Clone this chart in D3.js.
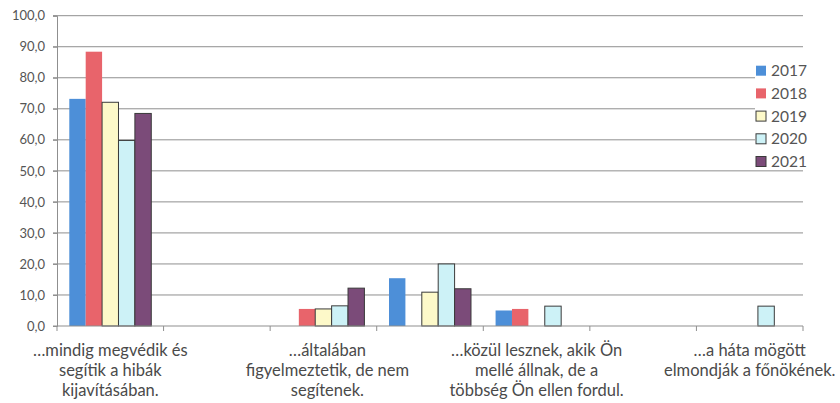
<!DOCTYPE html>
<html>
<head>
<meta charset="utf-8">
<script src="https://cdn.jsdelivr.net/npm/d3@7/dist/d3.min.js"></script>
<style>
  html, body { margin: 0; padding: 0; background: #fff; }
  svg { display: block; }
  text { font-family: Lato, "Open Sans", sans-serif; fill: #555; }
</style>
</head>
<body>
<svg id="chart" width="840" height="403"></svg>
<script>
// ---- data ----
// 7 categories; the chart shows only every other label (hidden labels are unreadable)
const categories = [
  "…mindig megvédik és\nsegítik a hibák\nkijavításában.",
  "",
  "…általában\nfigyelmeztetik, de nem\nsegítenek.",
  "",
  "…közül lesznek, akik Ön\nmellé állnak, de a\ntöbbség Ön ellen fordul.",
  "",
  "…a háta mögött\nelmondják a főnökének."
];
const seriesNames = ["2017", "2018", "2019", "2020", "2021"];
const v2017 = [73.2, 0, 0, 15.4, 5.0, 0, 0];
const v2018 = [88.4, 0, 5.5, 0, 5.5, 0, 0];
const v2019 = [72.1, 0, 5.5, 10.9, 0, 0, 0];
const v2020 = [59.8, 0, 6.5, 20.0, 6.4, 0, 6.4];
const v2021 = [68.5, 0, 12.2, 12.0, 0, 0, 0];
const yTicks = [0, 10, 20, 30, 40, 50, 60, 70, 80, 90, 100];

const seriesValues = [v2017, v2018, v2019, v2020, v2021];
const fills   = ["#4d8fd8", "#e8646b", "#fdf9c9", "#cdf2f7", "#7b4b79"];
const strokes = ["none", "none", "#3a3a3a", "#3a3a3a", "#3a3a3a"];

// ---- layout ----
const svg = d3.select("#chart");
const pLeft = 57, pRight = 803, pTop = 15.7, pBottom = 326;

const x = d3.scaleBand().domain(d3.range(categories.length)).range([pLeft, pRight]).paddingInner(0).paddingOuter(0);
const bw = x.bandwidth();
const inner = d3.scaleBand().domain(d3.range(seriesNames.length))
  .range([bw * 0.75 / 6.5, bw - bw * 0.75 / 6.5]).padding(0);
const y = d3.scaleLinear().domain([0, 100]).range([pBottom, pTop]);

// gridlines
svg.append("g").selectAll("line").data(yTicks.filter(t => t > 0)).join("line")
  .attr("x1", pLeft - 4).attr("x2", pRight)
  .attr("y1", d => y(d)).attr("y2", d => y(d))
  .attr("stroke", "#8f8f8f").attr("stroke-width", 1);

// y axis
const yAxis = svg.append("g").attr("transform", `translate(${pLeft},0)`)
  .call(d3.axisLeft(y).tickValues(yTicks).tickSize(4).tickPadding(8)
    .tickFormat(d => d3.format(".1f")(d).replace(".", ",")));
yAxis.select(".domain").attr("stroke", "#8f8f8f");
yAxis.selectAll(".tick line").attr("stroke", "#8f8f8f");
yAxis.selectAll(".tick text").attr("font-size", 13).attr("font-family", "Lato, sans-serif").attr("fill", "#555");

// bars
seriesValues.forEach((vals, si) => {
  svg.append("g").selectAll("rect")
    .data(vals.map((v, i) => ({ v, i })).filter(d => d.v > 0))
    .join("rect")
    .attr("x", d => x(d.i) + inner(si))
    .attr("width", inner.bandwidth())
    .attr("y", d => y(d.v))
    .attr("height", d => y(0) - y(d.v))
    .attr("fill", fills[si])
    .attr("stroke", strokes[si])
    .attr("stroke-width", 1);
});

// x axis
const xAxisG = svg.append("g");
xAxisG.append("line").attr("x1", pLeft - 4).attr("x2", pRight)
  .attr("y1", y(0)).attr("y2", y(0)).attr("stroke", "#8f8f8f");
const boundaries = d3.range(categories.length + 1).map(i => i < categories.length ? x(i) : pRight);
xAxisG.selectAll("line.tk").data(boundaries).join("line").attr("class", "tk")
  .attr("x1", d => d).attr("x2", d => d)
  .attr("y1", y(0)).attr("y2", y(0) + 5).attr("stroke", "#8f8f8f");

// category labels
const labG = svg.append("g");
categories.forEach((c, i) => {
  if (!c) return;
  const t = labG.append("text").attr("text-anchor", "middle")
    .attr("font-size", 16.5).style("fill", "#4a4a4a");
  c.split("\n").forEach((line, li) => {
    t.append("tspan").attr("x", x(i) + bw / 2 + (i === 2 ? 4 : 0)).attr("y", 356 + li * 20).text(line);
  });
});

// legend
const lg = svg.append("g");
lg.append("rect").attr("x", 755).attr("y", 58).attr("width", 50).attr("height", 112).attr("fill", "#fff");
seriesNames.forEach((s, i) => {
  const cy = 70.7 + i * 22.7;
  lg.append("rect").attr("x", 756).attr("y", cy - 5).attr("width", 10).attr("height", 10)
    .attr("fill", fills[i]).attr("stroke", strokes[i] === "none" ? "none" : "#3a3a3a");
  lg.append("text").attr("x", 771).attr("y", cy).attr("dy", "0.36em")
    .attr("font-size", 15.5).text(s);
});
</script>
</body>
</html>
